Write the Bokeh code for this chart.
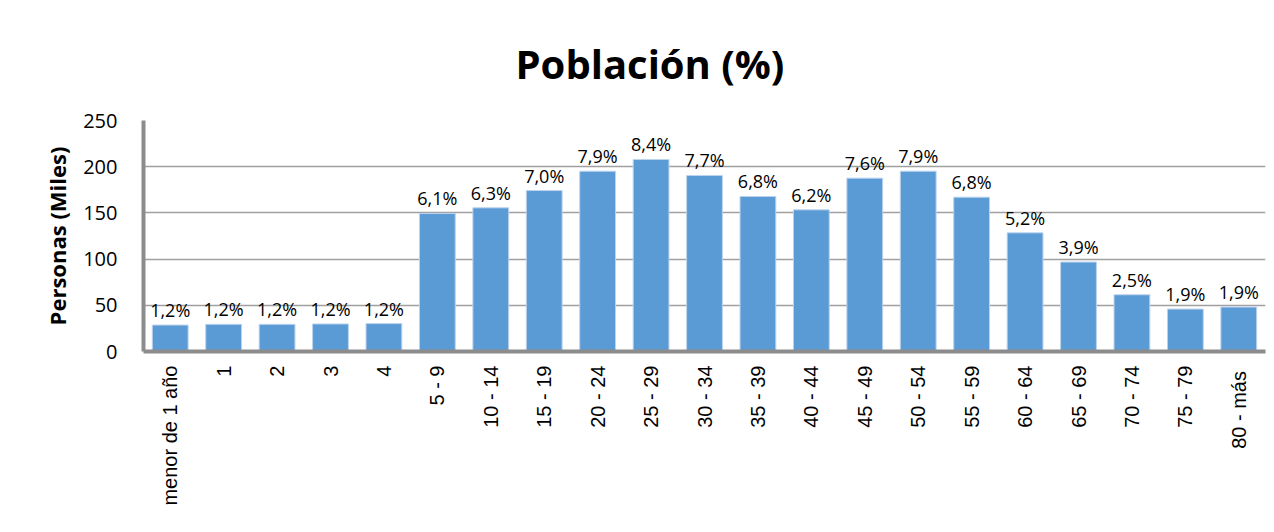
import math
from bokeh.plotting import figure
from bokeh.models import FactorRange, Range1d, FixedTicker, ColumnDataSource
from bokeh.core.properties import value
from bokeh.embed import file_html
from bokeh.resources import INLINE

categories = ["menor de 1 año", "1", "2", "3", "4", "5 - 9", "10 - 14", "15 - 19",
              "20 - 24", "25 - 29", "30 - 34", "35 - 39", "40 - 44", "45 - 49",
              "50 - 54", "55 - 59", "60 - 64", "65 - 69", "70 - 74", "75 - 79", "80 -  más"]
personas_miles = [28.6, 29.4, 29.4, 29.8, 30.2, 149.4, 155.5, 174.2, 195.1, 207.8, 190.5,
                  167.8, 153.3, 187.6, 195.1, 167.0, 128.4, 96.8, 61.4, 45.9, 48.1]
pct_labels = ["1,2%", "1,2%", "1,2%", "1,2%", "1,2%", "6,1%", "6,3%", "7,0%", "7,9%", "8,4%",
              "7,7%", "6,8%", "6,2%", "7,6%", "7,9%", "6,8%", "5,2%", "3,9%", "2,5%", "1,9%", "1,9%"]
y_ticks = [0, 50, 100, 150, 200, 250]

src = ColumnDataSource(dict(cat=categories, val=personas_miles, lab=pct_labels))

p = figure(x_range=FactorRange(*categories), y_range=Range1d(0, 250),
           width=1266, height=524, output_backend="svg", toolbar_location=None,
           min_border_left=143, min_border_right=1, min_border_top=120, min_border_bottom=173)

p.title.text = "Población (%)"
p.title.align = "left"
p.title.offset = 372
p.title.standoff = 59
p.title.text_font = "Open Sans"
p.title.text_font_style = "bold"
p.title.text_font_size = "40px"
p.title.text_color = "#000000"

p.outline_line_color = None
p.background_fill_color = "white"
p.border_fill_color = "white"

p.vbar(x="cat", top="val", width=0.67, source=src, fill_color="#5b9bd5",
       line_color="#bcd3ee", line_width=1)

p.text(x="cat", y="val", text="lab", source=src, text_align="center",
       text_baseline="bottom", y_offset=-3, text_font=value("Open Sans"),
       text_font_size="18px", text_color="#000000")

# grid
p.xgrid.grid_line_color = None
p.ygrid.ticker = FixedTicker(ticks=y_ticks)
p.ygrid.grid_line_color = "#a0a0a0"
p.ygrid.grid_line_width = 1.5

# y axis
p.yaxis.ticker = FixedTicker(ticks=y_ticks)
p.yaxis.axis_line_color = "#8c8c8c"
p.yaxis.axis_line_width = 4
p.yaxis.major_tick_line_color = None
p.yaxis.minor_tick_line_color = None
p.yaxis.major_label_text_font = "Open Sans"
p.yaxis.major_label_text_font_size = "20px"
p.yaxis.major_label_text_color = "#000000"
p.yaxis.major_label_standoff = 20
p.yaxis.axis_label = "Personas (Miles)"
p.yaxis.axis_label_text_font = "Open Sans"
p.yaxis.axis_label_text_font_style = "bold"
p.yaxis.axis_label_text_font_size = "22px"
p.yaxis.axis_label_text_color = "#000000"
p.yaxis.axis_label_standoff = 8

# x axis
p.xaxis.axis_line_color = "#8c8c8c"
p.xaxis.axis_line_width = 4
p.xaxis.major_tick_line_color = None
p.xaxis.minor_tick_line_color = None
p.xaxis.major_label_orientation = math.pi / 2
p.xaxis.major_label_text_font = "Liberation Sans"
p.xaxis.major_label_text_font_size = "20px"
p.xaxis.major_label_text_color = "#000000"
p.xaxis.major_label_standoff = 8

open("out.html", "w").write(file_html(p, INLINE))
